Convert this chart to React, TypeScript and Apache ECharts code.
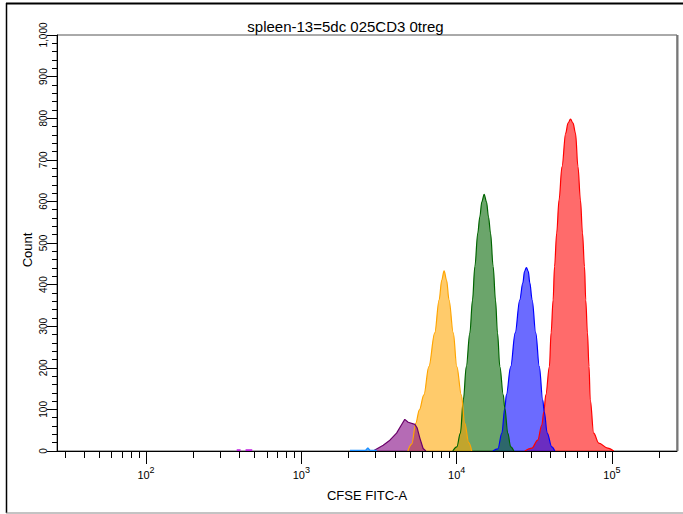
import React, { useEffect, useRef } from 'react';
import * as echarts from 'echarts';

// ---- Data (x in decades = log10 of CFSE FITC-A intensity, y = count) ----
const titleText = 'spleen-13=5dc 025CD3 0treg';
const xAxisName = 'CFSE FITC-A';
const yAxisName = 'Count';

const majorDecades = [2, 3, 4, 5];
const minorTickValues = [
  30, 40, 50, 60, 70, 80, 90,
  200, 300, 400, 500, 600, 700, 800, 900,
  2000, 3000, 4000, 5000, 6000, 7000, 8000, 9000,
  20000, 30000, 40000, 50000, 60000, 70000, 80000, 90000,
  200000,
];
const xMinDecade = 1.427;
const xMaxDecade = 5.4185;

const redLog = [4.439, 4.484, 4.522, 4.548, 4.561, 4.574, 4.597, 4.608, 4.621, 4.63, 4.644, 4.659, 4.678, 4.702, 4.717, 4.733, 4.749, 4.765, 4.781, 4.797, 4.81, 4.823, 4.831, 4.842, 4.852, 4.86, 4.882, 4.915, 4.973, 5.011];
const redCount = [0, 7, 26, 62, 94, 135, 203, 284, 363, 443, 524, 603, 683, 764, 788, 798, 788, 764, 683, 603, 524, 443, 363, 284, 203, 123, 43, 19, 7, 0];

const blueLog = [4.233, 4.265, 4.291, 4.31, 4.32, 4.348, 4.377, 4.406, 4.426, 4.437, 4.449, 4.461, 4.471, 4.486, 4.509, 4.532, 4.554, 4.564, 4.583, 4.612, 4.632];
const blueCount = [0, 5, 43, 103, 135, 203, 284, 363, 404, 432, 441, 432, 404, 363, 284, 203, 123, 94, 43, 10, 0];

const greenLog = [3.975, 4.001, 4.024, 4.043, 4.062, 4.085, 4.102, 4.117, 4.136, 4.149, 4.162, 4.177, 4.192, 4.205, 4.218, 4.235, 4.25, 4.263, 4.278, 4.3, 4.31, 4.329, 4.348, 4.368];
const greenCount = [0, 10, 43, 123, 203, 284, 363, 443, 524, 563, 599, 617, 599, 563, 524, 443, 363, 284, 203, 135, 103, 43, 10, 0];

const orangeLog = [3.686, 3.711, 3.737, 3.76, 3.789, 3.821, 3.859, 3.887, 3.904, 3.919, 3.935, 3.951, 3.978, 4.001, 4.03, 4.052, 4.078, 4.097];
const orangeCount = [0, 17, 67, 99, 135, 203, 284, 363, 411, 433, 411, 363, 284, 203, 135, 67, 20, 0];

const purpleLog = [3.462, 3.527, 3.57, 3.613, 3.645, 3.666, 3.688, 3.731, 3.746, 3.763, 3.784, 3.802];
const purpleCount = [0, 14, 26, 43, 63, 76, 69, 64, 55, 31, 6, 0];

const skyLog = [3.313, 3.377, 3.415, 3.428, 3.441, 3.486];
const skyCount = [1, 1, 2, 7, 2, 1];

const magentaLog = [2.584, 2.609, 2.625, 2.641, 2.684];
const magentaCount: (number | string)[] = [2, 2, '-', 2, 2];

const FONT = '"Liberation Sans", Arial, Helvetica, sans-serif';

function pairs(xs: number[], ys: (number | string)[]) {
  return xs.map((x, i) => [x, ys[i]]);
}

function histSeries(name: string, xs: number[], ys: (number | string)[], color: string, lineColor: string, smooth: boolean | number, area = true, width = 1.2) {
  return {
    name,
    type: 'line',
    xAxisIndex: 0,
    yAxisIndex: 0,
    data: pairs(xs, ys),
    symbol: 'none',
    smooth,
    smoothMonotone: 'x',
    connectNulls: false,
    lineStyle: { color: lineColor, width },
    itemStyle: { color: lineColor },
    areaStyle: area ? { color, opacity: 0.58 } : undefined,
    z: 3,
  };
}

export default function App() {
  const ref = useRef<HTMLDivElement>(null);
  useEffect(() => {
    document.body.style.margin = '0';
    const chart = echarts.init(ref.current!, null, { renderer: 'svg' });
    const gridBox = { left: 57, top: 35, width: 620, height: 416 };
    chart.setOption({
      animation: false,
      backgroundColor: '#ffffff',
      grid: [
        { ...gridBox, show: true, borderColor: '#555', borderWidth: 1, backgroundColor: 'transparent' },
        { ...gridBox, show: false },
      ],
      xAxis: [
        {
          type: 'value',
          gridIndex: 0,
          min: xMinDecade,
          max: xMaxDecade,
          z: 5,
          splitLine: { show: false },
          axisLine: { show: true, lineStyle: { color: '#000', width: 1 } },
          axisTick: {
            show: true,
            inside: false,
            length: 7,
            customValues: minorTickValues.map((v) => Math.log10(v)),
            lineStyle: { color: '#000', width: 1 },
          },
          axisLabel: {
            show: true,
            margin: 14,
            customValues: majorDecades,
            formatter: (v: number) => `{b|10}{s|${Math.round(v)}}`,
            rich: {
              b: { fontSize: 11, fontFamily: FONT, color: '#000', lineHeight: 20 },
              s: { fontSize: 9, fontFamily: FONT, color: '#000', lineHeight: 8, verticalAlign: 'top' },
            },
          },
          name: xAxisName,
          nameLocation: 'middle',
          nameGap: 38,
          nameTextStyle: { fontSize: 13, fontFamily: FONT, color: '#000' },
        },
        {
          type: 'value',
          gridIndex: 1,
          min: xMinDecade,
          max: xMaxDecade,
          z: 5,
          splitLine: { show: false },
          axisLine: { show: false },
          axisLabel: { show: false },
          axisTick: {
            show: true,
            inside: false,
            length: 13,
            customValues: majorDecades,
            lineStyle: { color: '#000', width: 1 },
          },
        },
      ],
      yAxis: [
        {
          type: 'value',
          gridIndex: 0,
          min: 0,
          max: 1000,
          interval: 100,
          z: 5,
          splitLine: { show: false },
          axisLine: { show: true, lineStyle: { color: '#000', width: 1 } },
          axisTick: { show: true, inside: false, length: 10, lineStyle: { color: '#000' } },
          minorTick: { show: true, splitNumber: 5, length: 5, lineStyle: { color: '#000' } },
          axisLabel: {
            rotate: 90,
            margin: 9,
            fontSize: 10,
            fontFamily: FONT,
            color: '#000',
            formatter: (v: number) => (v >= 1000 ? '1,000' : String(v)),
          },
        },
        { type: 'value', gridIndex: 1, min: 0, max: 1000, show: false },
      ],
      series: [
        histSeries('red', redLog, redCount, '#ff0000', '#ff0000', 0.35),
        histSeries('blue', blueLog, blueCount, '#0000ff', '#0000ff', 0.35),
        histSeries('green', greenLog, greenCount, '#006400', '#006400', 0.35),
        histSeries('orange', orangeLog, orangeCount, '#ffa500', '#ffa500', 0.35),
        histSeries('purple', purpleLog, purpleCount, '#800080', '#6a006a', false),
        histSeries('sky', skyLog, skyCount, '#1e90ff', '#1e90ff', false, true, 1.5),
        histSeries('magenta', magentaLog, magentaCount, '#c020e0', '#c020e0', false, false, 2),
      ],
      graphic: [
        {
          type: 'text',
          x: 345.5,
          y: 26,
          style: {
            text: titleText,
            fontSize: 15,
            fontFamily: FONT,
            fill: '#000',
            align: 'center',
            verticalAlign: 'middle',
          },
        },
        {
          type: 'text',
          x: 27,
          y: 250,
          rotation: Math.PI / 2,
          style: {
            text: yAxisName,
            fontSize: 13,
            fontFamily: FONT,
            fill: '#000',
            align: 'center',
            verticalAlign: 'middle',
          },
        },
        { type: 'line', shape: { x1: 6, y1: 3.5, x2: 683, y2: 3.5 }, style: { stroke: '#000', lineWidth: 2 } },
        { type: 'line', shape: { x1: 6.5, y1: 3, x2: 6.5, y2: 513 }, style: { stroke: '#000', lineWidth: 1.5 } },
        { type: 'line', shape: { x1: 6, y1: 513, x2: 683, y2: 513 }, style: { stroke: '#888', lineWidth: 1 } },
        { type: 'line', shape: { x1: 677.5, y1: 35, x2: 677.5, y2: 451 }, style: { stroke: '#777', lineWidth: 2 } },
      ],
    });
    return () => chart.dispose();
  }, []);
  return <div ref={ref} style={{ width: 683, height: 514 }} />;
}
